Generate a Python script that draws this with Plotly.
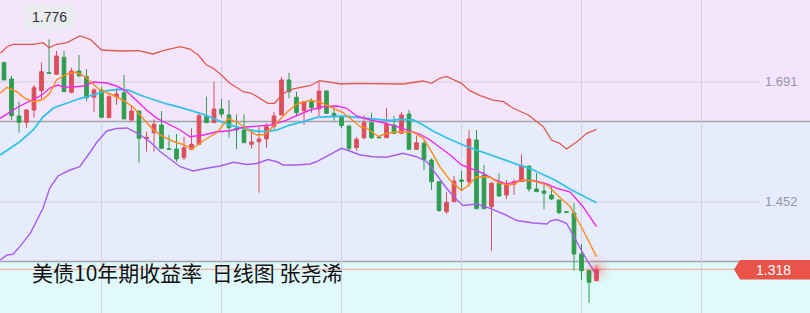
import plotly.graph_objects as go

# ---------------- data ----------------
idx = list(range(80))
opens = [1.7294,1.6970,1.6233,1.6107,1.6352,1.6737,1.7095,1.7063,1.7402,1.6705,
         1.7129,1.7015,1.6605,1.6751,1.6199,1.6617,1.6697,1.6153,1.6332,1.5781,
         1.5900,1.6053,1.5581,1.5575,1.5402,1.5569,1.5669,1.6219,1.6099,1.6372,
         1.6253,1.5988,1.5954,1.5669,1.5721,1.5775,1.6020,1.6253,1.6950,1.6605,
         1.6338,1.6517,1.6372,1.6731,1.6286,1.6219,1.6034,1.5601,1.5800,1.6099,
         1.5814,1.5800,1.6053,1.5888,1.6272,1.5569,1.5689,1.5356,1.4924,1.4327,
         1.4526,1.4958,1.4924,1.5755,1.5058,1.4426,1.4892,1.4659,1.4872,1.4928,
         1.5237,1.4779,1.4739,1.4659,1.4560,1.4327,1.4301,1.3484,1.3152,1.2952]
highs = [1.7314,1.7035,1.6517,1.6372,1.6850,1.7294,1.7760,1.7527,1.7527,1.7195,
         1.7448,1.7169,1.6784,1.6816,1.6665,1.6784,1.7049,1.6452,1.6332,1.5920,
         1.6167,1.6332,1.5854,1.5874,1.5820,1.5988,1.6306,1.6617,1.6916,1.6571,
         1.6551,1.6266,1.6266,1.5954,1.6020,1.6087,1.6318,1.7015,1.7095,1.6717,
         1.6517,1.6585,1.6916,1.6731,1.6418,1.6219,1.6034,1.5820,1.6253,1.6298,
         1.5834,1.6386,1.6233,1.6318,1.6352,1.5840,1.5735,1.5390,1.4924,1.4713,
         1.5038,1.5137,1.5954,1.5954,1.5257,1.4924,1.5091,1.4958,1.4972,1.5470,
         1.5237,1.5097,1.4858,1.4825,1.4560,1.4341,1.4494,1.3683,1.3152,1.3231]
lows = [1.6950,1.6153,1.5900,1.6000,1.6199,1.6565,1.7083,1.7063,1.6717,1.6685,
        1.7029,1.6531,1.6306,1.6199,1.6199,1.6452,1.6173,1.6133,1.5303,1.5522,
        1.5522,1.5589,1.5569,1.5322,1.5356,1.5555,1.5669,1.6099,1.6099,1.6207,
        1.5800,1.5575,1.5701,1.5589,1.4705,1.5601,1.5968,1.6253,1.6585,1.6253,
        1.6053,1.6298,1.6219,1.6272,1.6139,1.5988,1.5542,1.5542,1.5769,1.5775,
        1.5795,1.5800,1.5874,1.5888,1.5569,1.5555,1.5157,1.4759,1.4331,1.4281,
        1.4526,1.4739,1.4825,1.4386,1.4386,1.3550,1.4625,1.4580,1.4659,1.4928,
        1.4725,1.4725,1.4374,1.4560,1.4275,1.4315,1.3152,1.2966,1.2514,1.2952]
closes = [1.6950,1.6239,1.6107,1.6352,1.6796,1.7115,1.7083,1.7428,1.6717,1.7129,
          1.7029,1.6597,1.6751,1.6207,1.6617,1.6671,1.6173,1.6332,1.5789,1.5808,
          1.6067,1.5589,1.5569,1.5376,1.5601,1.5669,1.6239,1.6099,1.6372,1.6272,
          1.6000,1.5954,1.5701,1.5715,1.5775,1.6020,1.6233,1.6950,1.6717,1.6298,
          1.6517,1.6398,1.6731,1.6286,1.6219,1.6039,1.5589,1.5769,1.6099,1.5800,
          1.5800,1.6067,1.5888,1.6253,1.5569,1.5701,1.5370,1.4924,1.4347,1.4514,
          1.4938,1.4932,1.5775,1.4386,1.4386,1.4892,1.4639,1.4858,1.4924,1.5237,
          1.4779,1.4725,1.4693,1.4580,1.4307,1.4315,1.3484,1.3152,1.2920,1.3180]

upper_x = [-0.5,0.4,1.2,3.9,5.2,6.0,7.0,8.4,10.1,11.5,13.0,15.5,17.9,19.9,21.2,23.5,24.8,25.9,27.0,27.9,
           29.0,30.1,31.9,33.0,35.2,36.1,37.0,38.1,39.5,40.8,42.1,43.5,45.0,47.0,53.2,55.9,57.0,58.1,59.0,
           61.0,62.1,63.5,65.2,66.6,67.9,69.9,71.9,73.0,74.1,75.0,76.4,77.7,79.0]
upper_y = [1.7481,1.7613,1.7661,1.7661,1.7693,1.7593,1.7661,1.7693,1.7826,1.7760,1.7547,1.7527,1.7533,
           1.7468,1.7533,1.7613,1.7567,1.7448,1.7248,1.7183,1.7049,1.6884,1.6717,1.6685,1.6486,1.6486,
           1.6651,1.6751,1.6804,1.6836,1.6936,1.6904,1.6870,1.6884,1.6870,1.6930,1.6884,1.6984,1.7023,
           1.6884,1.6737,1.6637,1.6551,1.6517,1.6386,1.6253,1.6020,1.5755,1.5689,1.5575,1.5721,1.5888,1.5968]

mid_x = [-0.5,0.8,2.1,3.9,5.2,6.6,8.4,10.1,11.9,13.7,15.5,16.8,18.1,19.9,21.7,23.5,24.8,26.6,28.4,30.1,
         31.9,33.5,35.0,36.4,38.1,39.9,41.7,43.5,45.2,47.0,49.7,51.5,52.8,54.6,55.9,57.2,59.0,61.2,63.0,
         64.8,66.6,68.4,70.1,71.9,73.7,75.5,77.2,79.0]
mid_y = [1.5456,1.5589,1.5721,1.5954,1.6213,1.6392,1.6492,1.6581,1.6651,1.6737,1.6765,1.6737,1.6651,
         1.6565,1.6472,1.6406,1.6342,1.6266,1.6153,1.6053,1.5988,1.5934,1.5920,1.5954,1.6053,1.6119,
         1.6207,1.6219,1.6233,1.6207,1.6167,1.6143,1.6167,1.6153,1.6053,1.5934,1.5800,1.5655,1.5555,
         1.5456,1.5370,1.5271,1.5191,1.5071,1.4938,1.4773,1.4639,1.4506]

ma10_x = [-0.5,0.8,2.1,3.9,5.2,6.1,7.2,7.9,9.2,10.6,11.9,13.7,15.0,16.4,17.7,19.0,20.4,22.1,23.5,24.8,
          26.6,28.4,30.1,31.9,33.7,35.5,37.2,39.0,40.8,42.6,44.4,45.7,47.0,48.8,50.6,52.4,54.1,55.5,
          56.8,58.1,59.5,61.0,62.6,63.9,65.5,67.0,68.8,70.6,72.4,73.7,75.5,77.2,79.0]
ma10_y = [1.6187,1.6318,1.6432,1.6561,1.6665,1.6790,1.6850,1.6810,1.6810,1.6830,1.6910,1.6890,1.6830,
          1.6721,1.6531,1.6352,1.6187,1.6067,1.5954,1.5820,1.5854,1.5920,1.5940,1.6008,1.6034,1.6053,
          1.6119,1.6239,1.6352,1.6418,1.6432,1.6386,1.6233,1.6153,1.6099,1.6020,1.5934,1.5868,1.5755,
          1.5615,1.5456,1.5257,1.5157,1.5091,1.4958,1.4878,1.4948,1.4948,1.4878,1.4793,1.4719,1.4426,1.4028]

ma5_x = [-0.5,0.4,1.7,2.8,3.9,5.2,6.1,7.0,8.4,9.5,10.6,11.5,12.8,14.6,15.9,17.2,18.6,19.9,21.2,22.6,
         23.9,25.1,26.6,28.4,29.9,31.2,32.5,33.7,34.8,35.7,36.8,37.9,39.1,40.8,42.1,43.9,45.2,46.6,47.5,
         48.4,49.9,51.2,52.8,54.6,55.9,57.0,58.1,59.5,61.0,62.1,63.0,64.8,66.1,67.5,68.6,69.2,70.6,72.4,
         74.1,75.5,77.2,79.0]
ma5_y = [1.6691,1.6804,1.6717,1.6585,1.6517,1.6561,1.6685,1.6950,1.7069,1.7109,1.7039,1.6916,1.6751,
         1.6641,1.6545,1.6412,1.6173,1.5954,1.5824,1.5725,1.5665,1.5575,1.5745,1.5904,1.6183,1.6103,
         1.5954,1.5854,1.5864,1.5994,1.6153,1.6332,1.6472,1.6545,1.6511,1.6386,1.6302,1.6133,1.6020,
         1.5988,1.5824,1.5894,1.5920,1.5908,1.5789,1.5522,1.5223,1.4948,1.4749,1.4878,1.5024,1.5012,
         1.4892,1.4858,1.4924,1.4958,1.4938,1.4858,1.4613,1.4426,1.3962,1.3430]

lower_x = [-0.5,0.4,1.2,2.1,3.5,5.2,6.1,7.2,8.8,10.1,11.5,12.4,13.7,15.0,16.4,18.1,19.5,20.9,23.5,25.2,
           27.0,28.8,30.6,32.4,33.7,35.2,36.5,37.2,39.0,40.8,41.7,43.0,45.0,46.1,47.5,49.2,51.0,53.2,55.0,
           56.4,57.7,59.0,60.4,61.2,63.0,64.8,66.6,68.4,70.6,72.4,72.8,73.7,75.0,76.4,77.7,79.0]
lower_y = [1.3365,1.3464,1.3478,1.3630,1.3896,1.4394,1.4799,1.5038,1.5157,1.5223,1.5516,1.5715,1.5934,
           1.5984,1.5994,1.5864,1.5715,1.5516,1.5223,1.5137,1.5191,1.5237,1.5312,1.5267,1.5287,1.5366,
           1.5316,1.5257,1.5257,1.5277,1.5326,1.5436,1.5589,1.5536,1.5456,1.5422,1.5410,1.5490,1.5422,
           1.5322,1.5058,1.4793,1.4560,1.4450,1.4480,1.4394,1.4281,1.4151,1.4102,1.4082,1.4141,1.4171,
           1.4096,1.3729,1.3365,1.3066]

grid_levels = [1.691, 1.452]
grid_labels = ["1.691", "1.452"]
last_price = 1.318
last_label = "1.318"
peak_label = "1.776"
title_text = "美债10年期收益率\u00a0\u00a0日线图\u00a0张尧浠"

# ---------------- figure ----------------
W, H = 810, 313
Y0, Y1 = 1.2309, 1.8543
X0, X1 = -0.533, 107.467

def px(x):
    return x / W

def py(y):
    return 1 - y / H

RED = "#dc4f5a"
GREEN = "#2e9e4e"

fig = go.Figure()

fig.add_trace(go.Candlestick(
    x=idx, open=opens, high=highs, low=lows, close=closes,
    increasing=dict(line=dict(color=RED, width=1), fillcolor=RED),
    decreasing=dict(line=dict(color=GREEN, width=1), fillcolor=GREEN),
    whiskerwidth=0, showlegend=False, hoverinfo="skip"))

lines = [
    (upper_x, upper_y, "#e05a48", 1.3),
    (lower_x, lower_y, "#a65cf2", 1.4),
    (mid_x, mid_y, "#30c4e8", 1.8),
    (ma10_x, ma10_y, "#f028ec", 1.4),
    (ma5_x, ma5_y, "#ff8a1c", 1.4),
]
for xs, ys, col, w in lines:
    fig.add_trace(go.Scatter(x=xs, y=ys, mode="lines",
                             line=dict(color=col, width=w),
                             showlegend=False, hoverinfo="skip"))

# glow on last candle
fig.add_trace(go.Scatter(x=[idx[-1]] * 3, y=[closes[-1]] * 3, mode="markers",
                         marker=dict(size=[28, 19, 10],
                                     color=["rgba(245,70,70,0.08)", "rgba(245,70,70,0.14)",
                                            "rgba(245,60,60,0.30)"],
                                     line=dict(width=0)),
                         showlegend=False, hoverinfo="skip"))

shapes = []
# background bands
shapes.append(dict(type="rect", xref="paper", yref="paper", x0=0, x1=1,
                   y0=py(121.5), y1=1, fillcolor="#f4e5fc", line_width=0, layer="below"))
shapes.append(dict(type="rect", xref="paper", yref="paper", x0=0, x1=1,
                   y0=py(261.5), y1=py(121.5), fillcolor="#e7ecfc", line_width=0, layer="below"))
shapes.append(dict(type="rect", xref="paper", yref="paper", x0=0, x1=1,
                   y0=0, y1=py(261.5), fillcolor="#e0f9fc", line_width=0, layer="below"))
# horizontal grid
for lv in grid_levels:
    shapes.append(dict(type="line", xref="paper", yref="y", x0=0, x1=px(760), y0=lv, y1=lv,
                       line=dict(color="#d4cfe3", width=1), layer="below"))
# separators
for yy in (121.5, 261.5):
    shapes.append(dict(type="line", xref="paper", yref="paper", x0=0, x1=1, y0=py(yy), y1=py(yy),
                       line=dict(color="#a4a4a8", width=1.5), layer="below"))
# last price line
shapes.append(dict(type="line", xref="paper", yref="y", x0=0, x1=px(734), y0=last_price,
                   y1=last_price, line=dict(color="#f0a092", width=1), layer="below"))
# price tag
tag = "M {},{} L {},{} L {},{} L {},{} L {},{} Z".format(
    px(734), py(269.5), px(740), py(260), px(810), py(260), px(810), py(279.5), px(740), py(279.5))
shapes.append(dict(type="path", xref="paper", yref="paper", path=tag,
                   fillcolor="#e8534a", line_width=0))
# tooltip box
tip = "M {},{} L {},{} L {},{} L {},{} L {},{} L {},{} L {},{} Z".format(
    px(24), py(4), px(75), py(4), px(75), py(29.5), px(55), py(29.5), px(49.5), py(35),
    px(44), py(29.5), px(24), py(29.5))
shapes.append(dict(type="path", xref="paper", yref="paper", path=tip,
                   fillcolor="#e9ebee", line_width=0))

annotations = []
for lv, lb in zip(grid_levels, grid_labels):
    annotations.append(dict(x=px(800), y=lv, xref="paper", yref="y", text=lb, showarrow=False,
                            xanchor="right", yanchor="middle",
                            font=dict(family="Liberation Sans, Arial", size=13, color="#9096a8")))
annotations.append(dict(x=px(773), y=py(269.5), xref="paper", yref="paper", text=last_label,
                        showarrow=False, xanchor="center", yanchor="middle",
                        font=dict(family="Liberation Sans, Arial", size=14, color="white")))
annotations.append(dict(x=px(49.5), y=py(16.8), xref="paper", yref="paper", text=peak_label,
                        showarrow=False, xanchor="center", yanchor="middle",
                        font=dict(family="Liberation Sans, Arial", size=14, color="#333333")))
annotations.append(dict(x=px(30), y=py(271.5), xref="paper", yref="paper", text=title_text,
                        showarrow=False, xanchor="left", yanchor="middle",
                        font=dict(family="Noto Sans CJK SC", size=21, color="#111111")))

fig.update_layout(
    width=W, height=H, margin=dict(l=0, r=0, t=0, b=0),
    paper_bgcolor="#e7ecfc", plot_bgcolor="rgba(0,0,0,0)",
    shapes=shapes, annotations=annotations, showlegend=False,
    xaxis=dict(range=[X0, X1], tickvals=[13, 29, 45, 61, 77, 93], showticklabels=False,
               showgrid=True, gridcolor="#d4cfe3", gridwidth=1, zeroline=False,
               rangeslider=dict(visible=False), fixedrange=True),
    yaxis=dict(range=[Y0, Y1], showgrid=False, showticklabels=False, zeroline=False,
               fixedrange=True),
)

fig.write_html("out.html", config={"displayModeBar": False})
